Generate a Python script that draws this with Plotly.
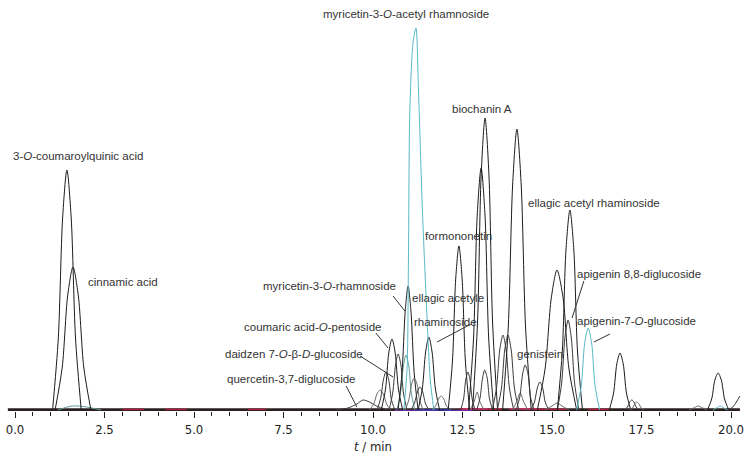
import plotly.graph_objects as go

# ---- data: retention time t (min) and response (a.u.) ----
# labelled compounds
coumaroylquinic_t = [1.05, 1.21, 1.33, 1.45, 1.57, 1.69, 1.85]
coumaroylquinic_y = [0, 72, 192, 240, 192, 72, 0]
cinnamic_t = [1.12, 1.32, 1.47, 1.62, 1.77, 1.92, 2.12]
cinnamic_y = [0, 43, 114, 143, 114, 43, 0]
myr_acetyl_t = [10.86, 10.95, 10.99, 11.03, 11.12, 11.20, 11.27, 11.38, 11.50, 11.60, 11.70]
myr_acetyl_y = [0, 40, 150, 300, 368, 382, 320, 200, 100, 30, 0]
quercetin_t = [8.95, 9.30, 9.55, 9.72, 9.90, 10.10, 10.40]
quercetin_y = [0, 2, 6, 10, 8, 4, 0]
coumaric_pent_t = [10.23, 10.35, 10.44, 10.53, 10.62, 10.71, 10.83]
coumaric_pent_y = [0, 21, 57, 71, 57, 21, 0]
myr_rham_t = [10.70, 10.81, 10.90, 10.98, 11.06, 11.15, 11.26]
myr_rham_y = [0, 37, 99, 124, 99, 37, 0]
daidzen_t = [10.45, 10.55, 10.63, 10.70, 10.78, 10.85, 10.95]
daidzen_y = [0, 17, 45, 56, 45, 17, 0]
ellagic_rham_t = [11.26, 11.38, 11.47, 11.56, 11.65, 11.74, 11.86]
ellagic_rham_y = [0, 22, 58, 73, 58, 22, 0]
formononetin_t = [12.10, 12.22, 12.31, 12.40, 12.49, 12.58, 12.70]
formononetin_y = [0, 49, 131, 164, 131, 49, 0]
biochanin_t = [12.78, 12.92, 13.02, 13.13, 13.24, 13.34, 13.48]
biochanin_y = [0, 88, 234, 292, 234, 88, 0]
genistein_t = [14.00, 14.10, 14.18, 14.25, 14.33, 14.40, 14.50]
genistein_y = [0, 13, 36, 45, 36, 13, 0]
ellagic_acetyl_t = [15.15, 15.29, 15.39, 15.50, 15.61, 15.71, 15.85]
ellagic_acetyl_y = [0, 60, 160, 200, 160, 60, 0]
apigenin_88_t = [15.15, 15.27, 15.36, 15.45, 15.54, 15.63, 15.75]
apigenin_88_y = [0, 27, 72, 90, 72, 27, 0]
apigenin_7_t = [15.69, 15.82, 15.91, 16.01, 16.11, 16.20, 16.33]
apigenin_7_y = [0, 25, 66, 82, 66, 25, 0]

# other (unlabelled) peaks of the overlaid traces
tall_a_t = [12.67, 12.81, 12.91, 13.02, 13.13, 13.23, 13.37]
tall_a_y = [0, 73, 194, 242, 194, 73, 0]
tall_b_t = [13.62, 13.78, 13.90, 14.02, 14.14, 14.26, 14.42]
tall_b_y = [0, 84, 225, 281, 225, 84, 0]
broad_c_t = [14.59, 14.81, 14.98, 15.14, 15.31, 15.47, 15.69]
broad_c_y = [0, 42, 112, 140, 112, 42, 0]
late_d_t = [16.60, 16.72, 16.81, 16.90, 16.99, 17.08, 17.20]
late_d_y = [0, 17, 46, 57, 46, 17, 0]
late_e_t = [19.34, 19.46, 19.55, 19.64, 19.73, 19.82, 19.94]
late_e_y = [0, 11, 30, 37, 30, 11, 0]
teal_f_t = [10.67, 10.77, 10.85, 10.92, 11.00, 11.07, 11.17]
teal_f_y = [0, 17, 44, 55, 44, 17, 0]
small_1_t = [10.11, 10.21, 10.29, 10.36, 10.44, 10.51, 10.61]
small_1_y = [0, 11, 30, 38, 30, 11, 0]
small_2_t = [9.90, 10.02, 10.11, 10.20, 10.29, 10.38, 10.50]
small_2_y = [0, 6, 16, 20, 16, 6, 0]
small_3_t = [10.90, 11.00, 11.08, 11.15, 11.23, 11.30, 11.40]
small_3_y = [0, 10, 26, 32, 26, 10, 0]
small_4_t = [11.06, 11.16, 11.24, 11.31, 11.39, 11.46, 11.56]
small_4_y = [0, 7, 18, 23, 18, 7, 0]
small_5_t = [11.65, 11.75, 11.83, 11.90, 11.98, 12.05, 12.15]
small_5_y = [0, 4, 11, 14, 11, 4, 0]
small_6_t = [12.45, 12.53, 12.59, 12.65, 12.71, 12.77, 12.85]
small_6_y = [0, 11, 30, 38, 30, 11, 0]
small_7_t = [12.90, 12.99, 13.06, 13.12, 13.19, 13.25, 13.34]
small_7_y = [0, 12, 32, 40, 32, 12, 0]
small_8_t = [13.33, 13.45, 13.54, 13.63, 13.72, 13.81, 13.93]
small_8_y = [0, 22, 60, 75, 60, 22, 0]
small_9_t = [13.47, 13.59, 13.68, 13.77, 13.86, 13.95, 14.07]
small_9_y = [0, 22, 60, 75, 60, 22, 0]
small_10_t = [14.41, 14.51, 14.59, 14.66, 14.74, 14.81, 14.91]
small_10_y = [0, 8, 22, 28, 22, 8, 0]
small_11_t = [17.03, 17.11, 17.17, 17.23, 17.29, 17.35, 17.43]
small_11_y = [0, 3, 8, 10, 8, 3, 0]
small_12_t = [17.17, 17.25, 17.31, 17.37, 17.43, 17.49, 17.57]
small_12_y = [0, 2, 6, 8, 6, 2, 0]
small_13_t = [12.71, 12.83, 12.91, 12.98, 13.10]
small_13_y = [0, 9, 18, 9, 0]
small_14_t = [13.90, 14.02, 14.11, 14.20, 14.32]
small_14_y = [0, 9, 17, 9, 0]
small_15_t = [14.80, 15.00, 15.14, 15.28, 15.48]
small_15_y = [0, 4, 7, 4, 0]
small_16_t = [18.83, 18.98, 19.08, 19.18, 19.33]
small_16_y = [0, 2.5, 4, 2.5, 0]
small_17_t = [1.20, 1.60, 2.00, 2.40]
small_17_y = [0, 4, 3, 0]
end_rise_t = [19.90, 20.05, 20.15, 20.25]
end_rise_y = [0, 3, 8, 14]
cyan_small_t = [19.50, 19.62, 19.70, 19.78, 19.90]
cyan_small_y = [0, 2.5, 4, 2.5, 0]

# baseline (thick, with coloured noise of the overlaid channels)
base_t = [-0.2, 20.25]
base_y = [0, 0]
base_red_t = [3.0, 3.6, None, 4.2, 4.8, None, 6.5, 7.0, None, 12.4, 13.6, None, 14.2, 15.4, None, 16.0, 16.6]
base_red_y = [0.6, 0.6, None, 0.6, 0.6, None, 0.6, 0.6, None, 0.8, 0.8, None, 0.8, 0.8, None, 0.6, 0.6]
base_purple_t = [10.6, 11.8, None, 12.0, 12.8]
base_purple_y = [-0.5, -0.5, None, -0.5, -0.5]
base_blue_t = [11.2, 12.2]
base_blue_y = [0.2, 0.2]
base_magenta_t = [12.5, 13.2, None, 13.8, 14.6]
base_magenta_y = [1.0, 1.0, None, 1.0, 1.0]

tick_vals = [0, 2.5, 5, 7.5, 10, 12.5, 15, 17.5, 20]
tick_text = ["0.0", "2.5", "5.0", "7.5", "10.0", "12.5", "15.0", "17.5", "20.0"]

BLACK = "#1c1c1c"
DARK = "#3a3a3a"
GREY = "#6a6a6a"
CYAN = "#58b9c6"
TEAL = "#5f9a98"

fig = go.Figure()


def add(t, y, color, width=1.0, shape="spline"):
    fig.add_trace(go.Scatter(x=t, y=y, mode="lines",
                             line=dict(color=color, width=width, shape=shape, smoothing=0.8),
                             hoverinfo="skip", showlegend=False))


# baseline first
add(base_t, base_y, "#2b1f1f", 3.5, "linear")
add(base_red_t, base_red_y, "#a81c3a", 1.5, "linear")
add(base_purple_t, base_purple_y, "#6a2a9a", 1.5, "linear")
add(base_blue_t, base_blue_y, "#2d3fbf", 1.2, "linear")
add(base_magenta_t, base_magenta_y, "#c8306e", 1.5, "linear")

for t, y, c in [
    (small_17_t, small_17_y, TEAL),
    (quercetin_t, quercetin_y, DARK),
    (small_2_t, small_2_y, GREY),
    (small_1_t, small_1_y, DARK),
    (coumaric_pent_t, coumaric_pent_y, BLACK),
    (daidzen_t, daidzen_y, DARK),
    (teal_f_t, teal_f_y, TEAL),
    (myr_rham_t, myr_rham_y, BLACK),
    (small_3_t, small_3_y, GREY),
    (small_4_t, small_4_y, DARK),
    (ellagic_rham_t, ellagic_rham_y, BLACK),
    (small_5_t, small_5_y, GREY),
    (formononetin_t, formononetin_y, BLACK),
    (small_6_t, small_6_y, DARK),
    (small_13_t, small_13_y, GREY),
    (tall_a_t, tall_a_y, BLACK),
    (biochanin_t, biochanin_y, BLACK),
    (small_7_t, small_7_y, DARK),
    (small_8_t, small_8_y, DARK),
    (small_9_t, small_9_y, DARK),
    (tall_b_t, tall_b_y, BLACK),
    (small_14_t, small_14_y, GREY),
    (genistein_t, genistein_y, DARK),
    (small_10_t, small_10_y, DARK),
    (small_15_t, small_15_y, GREY),
    (broad_c_t, broad_c_y, BLACK),
    (apigenin_88_t, apigenin_88_y, DARK),
    (ellagic_acetyl_t, ellagic_acetyl_y, BLACK),
    (late_d_t, late_d_y, BLACK),
    (small_11_t, small_11_y, DARK),
    (small_12_t, small_12_y, GREY),
    (small_16_t, small_16_y, GREY),
    (late_e_t, late_e_y, BLACK),
    (cyan_small_t, cyan_small_y, CYAN),
    (end_rise_t, end_rise_y, DARK),
    (cinnamic_t, cinnamic_y, BLACK),
    (coumaroylquinic_t, coumaroylquinic_y, BLACK),
    (apigenin_7_t, apigenin_7_y, CYAN),
    (myr_acetyl_t, myr_acetyl_y, CYAN),
]:
    add(t, y, c)

LABEL_FONT = dict(family="Liberation Sans, Arial, sans-serif", size=11.5, color="#333333")
labels = [
    ("myricetin-3-<i>O</i>-acetyl rhamnoside", 8.58, 396),
    ("3-<i>O</i>-coumaroylquinic acid", -0.08, 254),
    ("cinnamic acid", 2.01, 128),
    ("biochanin A", 12.18, 301),
    ("ellagic acetyl rhaminoside", 14.30, 207),
    ("formononetin", 11.42, 174),
    ("apigenin 8,8-diglucoside", 15.67, 136),
    ("myricetin-3-<i>O</i>-rhamnoside", 6.90, 124),
    ("ellagic acetyle", 11.06, 112),
    ("rhaminoside", 11.12, 88),
    ("coumaric acid-<i>O</i>-pentoside", 6.37, 83),
    ("apigenin-7-<i>O</i>-glucoside", 15.67, 89),
    ("genistein", 13.99, 56),
    ("daidzen 7-<i>O</i>-β-<i>D</i>-glucoside", 5.84, 56),
    ("quercetin-3,7-diglucoside", 5.89, 31),
]
annotations = [dict(text=s, x=x, y=y, xref="x", yref="y", xanchor="left", yanchor="middle",
                    showarrow=False, font=LABEL_FONT, borderpad=0) for s, x, y in labels]
annotations.append(dict(text="<i>t</i> / min", x=373 / 746, y=-0.087, xref="paper", yref="paper",
                        xanchor="center", yanchor="middle", showarrow=False,
                        font=dict(family="Liberation Sans Narrow, Arial Narrow, DejaVu Sans Condensed, sans-serif",
                                  size=13, color="#222222")))

pointers = [
    (10.56, 114, 10.89, 99),
    (10.08, 77, 10.42, 62),
    (9.64, 54, 10.56, 33),
    (9.25, 24, 9.55, 3),
    (12.74, 86, 11.79, 68),
    (15.89, 129, 15.56, 92),
    (16.62, 76, 16.17, 68),
]
shapes = [dict(type="line", xref="x", yref="y", x0=a, y0=b, x1=c, y1=d,
               line=dict(color="#333333", width=1)) for a, b, c, d in pointers]

fig.update_layout(
    width=746, height=461,
    margin=dict(l=0, r=0, t=0, b=50),
    paper_bgcolor="white", plot_bgcolor="white",
    showlegend=False,
    annotations=annotations,
    shapes=shapes,
    xaxis=dict(range=[-15 / 35.8, 731 / 35.8], showgrid=False, zeroline=False, showline=False,
               tickmode="array", tickvals=tick_vals, ticktext=tick_text,
               ticks="outside", ticklen=6, tickwidth=1, tickcolor="#222222",
               minor=dict(dtick=0.5, tick0=0, ticks="outside", ticklen=4, tickcolor="#222222", showgrid=False),
               tickfont=dict(family="Liberation Sans Narrow, Arial Narrow, DejaVu Sans Condensed, sans-serif",
                             size=13, color="#222222")),
    yaxis=dict(range=[-1, 410], visible=False, showgrid=False, zeroline=False),
)

fig.write_html("out.html", config={"displayModeBar": False},
               post_script="document.body.style.margin='0';")
